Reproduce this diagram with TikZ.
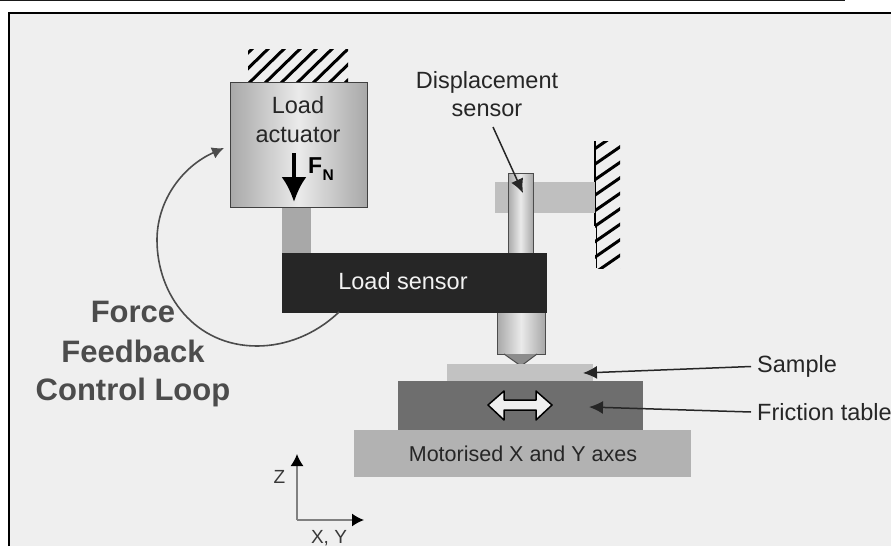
\documentclass[tikz,border=0pt]{standalone}
\usepackage{fontspec}
\setmainfont{Liberation Sans}
\usetikzlibrary{arrows.meta}
\definecolor{panelgray}{HTML}{EFEFEF}
\definecolor{edgegray}{HTML}{A8A8A8}
\definecolor{midgray}{HTML}{EAEAEA}
\tikzset{
  actuatorbox/.style={draw=black!75,line width=1pt,left color=edgegray,right color=edgegray,middle color=midgray},
  rodbox/.style={draw=black!70,line width=1pt,left color=edgegray,right color=edgegray,middle color=midgray},
  labeltext/.style={font=\fontsize{23.5}{28.8}\selectfont,text=black!85,align=center},
  looptext/.style={font=\fontsize{31}{34}\selectfont\bfseries,text=black!70,align=center,inner sep=0pt},
  pointer/.style={-{Latex[length=14pt,width=13pt]},line width=1.5pt,black!85},
  axisline/.style={line width=1.4pt,gray,arrows={-{Latex[length=12pt,width=13pt,color=black]}}},
  hatchline/.style={black,line width=3pt}
}
\begin{document}
\begin{tikzpicture}[x=1pt,y=-1pt]
    \useasboundingbox (0,0) rectangle (891,546);
    \fill[white] (0,0) rectangle (891,546);
    % frame
    \fill[panelgray] (9,13) rectangle (891,546);
    \draw[line width=2pt] (9,546) -- (9,13) -- (891,13);
    \draw[line width=1.2pt,black!90] (0,0.6) -- (845,0.6);
    % fixed supports
    \begin{scope}
      \clip (248,49) rectangle (348,82);
      \foreach \x in {216,232,...,344}
        \draw[hatchline] (\x,84) -- (\x+38,47);
    \end{scope}
    \begin{scope}
      \clip (595,141) rectangle (620,268);
      \foreach \y in {150,165.5,...,290}
        \draw[hatchline] (593,\y) -- (622,\y-20);
    \end{scope}
    \draw[line width=1.5pt] (595,141) -- (595,226);
    \draw[line width=1.5pt] (596.5,226) -- (596.5,268);
    % actuator and load sensor
    \fill[edgegray] (282,207) rectangle (311,254);
    \node[actuatorbox,minimum width=137pt,minimum height=125pt,inner sep=0pt] (actuator) at (298.5,144.5) {};
    \node[labeltext] (loadtext) at (298,119.5) {Load\\actuator};
    \coordinate (forcetop) at (294,153);
    \coordinate (forcetip) at (294,202);
    \draw[-{Latex[length=25pt,width=25pt]},line width=3.5pt] (forcetop) -- (forcetip);
    \node[inner sep=0pt,anchor=base west,font=\fontsize{23}{24}\selectfont\bfseries] (forcetext) at (308,173) {F};
    \node[inner sep=0pt,anchor=base west,font=\fontsize{15.5}{16}\selectfont\bfseries] (forcesub) at (322.5,180) {N};
    % displacement sensor
    \fill[black!25] (495,182) rectangle (595,213);
    \node[rodbox,minimum width=25pt,minimum height=82pt,inner sep=0pt] (upperrod) at (520.5,214) {};
    \node[rodbox,minimum width=48pt,minimum height=45pt,inner sep=0pt] (lowerrod) at (521,332) {};
    \draw[line width=1pt,fill=black!45,draw=black!70] (504,354) -- (521,366) -- (537,354);
    \node[minimum width=265pt,minimum height=60pt,inner sep=0pt,fill=black!85] (loadsensor) at (414.5,283) {};
    \node[inner sep=0pt,text=white!95!black,font=\fontsize{23.5}{28}\selectfont] (sensortext) at (403,281) {Load sensor};
    \node[labeltext] (disptext) at (487,94) {Displacement\\sensor};
    \coordinate (disptail) at (493,127);
    \coordinate (disptip) at (523,193);
    \draw[pointer] (disptail) -- (disptip);
    % table stack
    \node[minimum width=337pt,minimum height=47pt,inner sep=0pt,fill=black!30] (axes) at (522.5,453.5) {};
    \node[labeltext,inner sep=0pt,font=\fontsize{21.5}{26}\selectfont] (axestext) at (523,454) {Motorised X and Y axes};
    \node[minimum width=245pt,minimum height=49pt,inner sep=0pt,fill=black!57] (table) at (520.5,405.5) {};
    \node[minimum width=146pt,minimum height=17pt,inner sep=0pt,fill=black!24] (sample) at (520,372.5) {};
    \draw[fill=panelgray,line width=1.5pt,line join=round] (488,405) -- (504,391) -- (504,400) -- (536,400)
      -- (536,391) -- (552,405) -- (536,420) -- (536,410) -- (504,410) -- (504,420) -- cycle;
    % labels on the right
    \node[labeltext,anchor=west,inner sep=0pt,inner xsep=6pt] (samplelabel) at (751,366.5) {Sample};
    \node[labeltext,anchor=west,inner sep=0pt,inner xsep=6pt] (tablelabel) at (751,412) {Friction table};
    \coordinate (sampletip) at (583,373);
    \coordinate (tabletip) at (589,407);
    \draw[pointer] (samplelabel.west) -- (sampletip);
    \draw[pointer] (tablelabel.west) -- (tabletip);
    % feedback loop
    \coordinate (loopstart) at (339,312);
    \coordinate (looptip) at (224,148);
    \draw[-{Latex[length=12pt,width=12pt]},line width=1.6pt,black!70] (loopstart)
      .. controls (315,335) and (285,346) .. (257,346)
      .. controls (195,346) and (157,295) .. (157,240)
      .. controls (157,200) and (183,166) .. (looptip);
    \node[looptext] (forcelabel) at (133,312) {Force};
    \node[looptext] (feedbacklabel) at (133,351) {Feedback};
    \node[looptext] (controllabel) at (133,392) {Control Loop};
    % axes
    \coordinate (origin) at (297,520);
    \coordinate (ztip) at (297,454);
    \coordinate (xtip) at (364,520);
    \draw[axisline] (origin) -- (ztip);
    \draw[axisline] (origin) -- (xtip);
    \node[inner sep=0pt,text=black!78,font=\fontsize{19}{20}\selectfont] (zlabel) at (279.5,477) {Z};
    \node[inner sep=0pt,text=black!78,font=\fontsize{19}{20}\selectfont] (xylabel) at (329,538) {X, Y};
\end{tikzpicture}
\end{document}
